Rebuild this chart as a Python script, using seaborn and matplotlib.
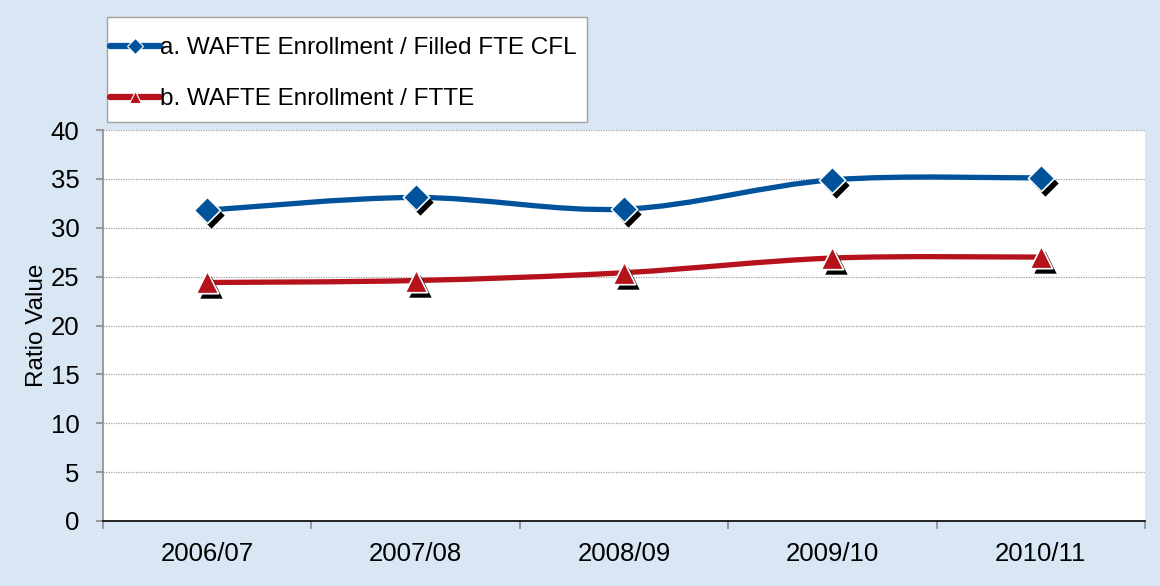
import numpy as np
import matplotlib
matplotlib.use("Agg")
import matplotlib.pyplot as plt
import matplotlib.transforms as mtransforms
from matplotlib.path import Path
from matplotlib.patches import PathPatch, Rectangle
from matplotlib.lines import Line2D
import seaborn as sns

# Data
years = ["2006/07", "2007/08", "2008/09", "2009/10", "2010/11"]
cfl_ratio = [31.8, 33.1, 31.9, 34.9, 35.1]
ftte_ratio = [24.4, 24.6, 25.4, 26.9, 27.0]
label_a = "a. WAFTE Enrollment / Filled FTE CFL"
label_b = "b. WAFTE Enrollment / FTTE"

blue = "#00539b"
red = "#b5121b"
bg = "#d9e6f3"
fs = 17.5

sns.set_theme(style="white")
plt.rcParams['font.family'] = ['Liberation Sans', 'DejaVu Sans']
plt.rcParams['text.color'] = 'black'
plt.rcParams['axes.labelcolor'] = 'black'
plt.rcParams['xtick.color'] = 'black'
plt.rcParams['ytick.color'] = 'black'

W, H = 1160, 586
fig = plt.figure(figsize=(W / 100, H / 100), dpi=100, facecolor=bg)
ax = fig.add_axes([103 / W, 1 - 521 / H, 1042 / W, 391 / H])
ax.set_facecolor("white")


def smooth_path(xs, ys):
    # Excel-style smoothed line: cubic bezier through the points
    pts = np.column_stack([xs, ys]).astype(float)
    n = len(pts)
    verts = [pts[0]]
    codes = [Path.MOVETO]
    for i in range(n - 1):
        p0 = pts[i - 1] if i > 0 else pts[i]
        p1, p2 = pts[i], pts[i + 1]
        p3 = pts[i + 2] if i + 2 < n else pts[i + 1]
        c1 = p1 + (p2 - p0) / 6
        c2 = p2 - (p3 - p1) / 6
        verts += [c1, c2, p2]
        codes += [Path.CURVE4] * 3
    return Path(verts, codes)


xpos = np.arange(len(years))
shadow = ax.transData + mtransforms.ScaledTranslation(4 / 100, -5 / 100, fig.dpi_scale_trans)

for vals, col, mk, ms in [(cfl_ratio, blue, "D", 180), (ftte_ratio, red, "^", 260)]:
    ax.add_patch(PathPatch(smooth_path(xpos, vals), facecolor="none",
                           edgecolor=col, lw=3.8, zorder=2, capstyle="round"))
    ax.scatter(xpos, vals, marker=mk, s=ms, color="black", lw=0,
               transform=shadow, zorder=3)
    sns.scatterplot(x=xpos, y=vals, marker=mk, s=ms, color=col,
                    edgecolor="white", linewidth=1.2, zorder=4, ax=ax)

ax.set_xlim(-0.5, 4.5)
ax.set_ylim(0, 40)
ax.set_yticks(range(0, 41, 5))
ax.yaxis.grid(True, color="#a0a0a0", lw=0.9, ls=(0, (1, 1)))
ax.set_axisbelow(True)

ax.set_xticks(np.arange(-0.5, 5, 1))
ax.set_xticklabels([])
ax.set_xticks(xpos, minor=True)
ax.set_xticklabels(years, minor=True)
ax.tick_params(axis="x", which="major", length=6, color="#909090", direction="out")
ax.tick_params(axis="x", which="minor", length=0, pad=15, labelsize=18.5)
ax.tick_params(axis="y", length=5, color="#909090", direction="out", labelsize=18.5, pad=12)
ax.xaxis.set_ticks_position("bottom")
ax.yaxis.set_ticks_position("left")

for side in ["top", "right"]:
    ax.spines[side].set_visible(False)
ax.spines["left"].set_color("#909090")
ax.spines["bottom"].set_color("black")
ax.spines["bottom"].set_linewidth(1.2)

ax.set_ylabel("Ratio Value", fontsize=fs, labelpad=2)

# legend box drawn by hand, entries placed inside it
fig.patches.append(Rectangle((107 / W, 1 - 122 / H), 480 / W, 105 / H,
                             transform=fig.transFigure, facecolor="white",
                             edgecolor="#a0a0a0", lw=1.0, zorder=1))
handles = [
    Line2D([], [], color=blue, lw=4.5, marker="D", markersize=8,
           markeredgecolor="white", markeredgewidth=0.8),
    Line2D([], [], color=red, lw=4.5, marker="^", markersize=9,
           markeredgecolor="white", markeredgewidth=0.8),
]
leg = fig.legend(handles, [label_a, label_b], loc="upper left",
                 bbox_to_anchor=(110 / W, 1 - 37 / H), fontsize=fs,
                 frameon=False, handlelength=2.05,
                 handletextpad=0.0, labelspacing=1.2, borderpad=0,
                 borderaxespad=0)

fig.savefig("out.png", dpi=100, facecolor=bg)
